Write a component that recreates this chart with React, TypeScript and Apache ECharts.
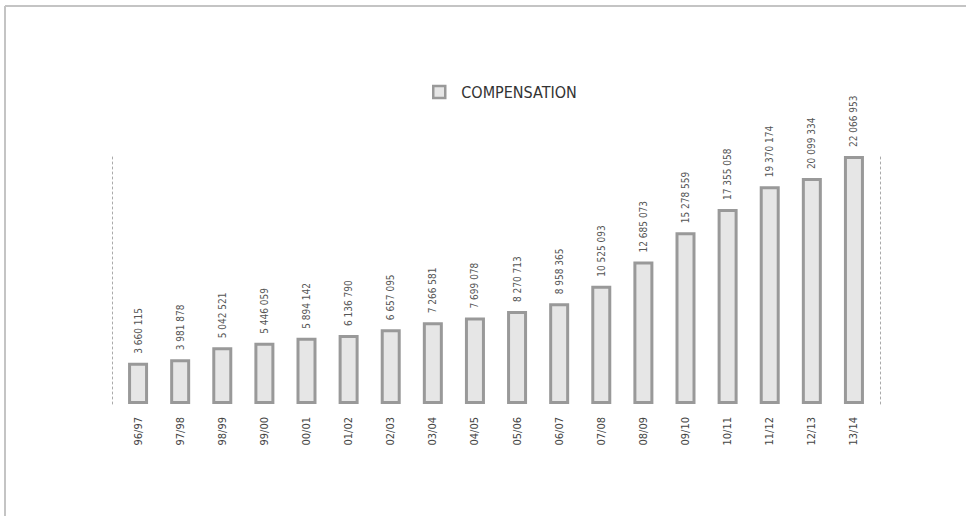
import React, { useEffect, useRef } from "react";
import * as echarts from "echarts";

const categories = [
  "96/97", "97/98", "98/99", "99/00", "00/01", "01/02", "02/03", "03/04", "04/05",
  "05/06", "06/07", "07/08", "08/09", "09/10", "10/11", "11/12", "12/13", "13/14",
];
const compensation = [
  3660115, 3981878, 5042521, 5446059, 5894142, 6136790, 6657095, 7266581, 7699078,
  8270713, 8958365, 10525093, 12685073, 15278559, 17355058, 19370174, 20099334, 22066953,
];
const seriesName = "COMPENSATION";

const fmt = (v: number) => String(v).replace(/\B(?=(\d{3})+(?!\d))/g, " ");

const NARROW = '"Liberation Sans Narrow", "Arial Narrow", "DejaVu Sans Condensed", "Liberation Sans", sans-serif';

export default function App() {
  const ref = useRef<HTMLDivElement>(null);
  useEffect(() => {
    if (!ref.current) return;
    const chart = echarts.init(ref.current, undefined, { renderer: "svg" });
    chart.setOption({
      animation: false,
      backgroundColor: "#ffffff",
      graphic: [
        { type: "line", shape: { x1: 5, y1: 6, x2: 966, y2: 6 }, style: { stroke: "#c4c4c4", lineWidth: 2 } },
        { type: "line", shape: { x1: 5, y1: 6, x2: 5, y2: 516 }, style: { stroke: "#c4c4c4", lineWidth: 2 } },
      ],
      legend: {
        left: 427,
        top: 79,
        itemWidth: 12,
        itemHeight: 12,
        icon: "rect",
        itemStyle: { color: "#e6e6e6", borderColor: "#999", borderWidth: 2.5 },
        textStyle: { color: "#333", fontSize: 16, fontFamily: NARROW, padding: [0, 0, 0, 11] },
        data: [seriesName],
      },
      grid: { left: 117, right: 91, top: 156, bottom: 112 },
      xAxis: {
        type: "category",
        data: categories,
        axisLine: { show: false },
        axisTick: { show: false },
        axisLabel: {
          rotate: 90,
          margin: 13,
          color: "#444",
          fontSize: 11,
          fontFamily: NARROW,
          interval: 0,
        },
      },
      yAxis: [
        {
          type: "value",
          min: 0,
          max: 22066953,
          offset: 5,
          axisLine: { show: true, lineStyle: { color: "#aaa", type: [2, 3], width: 1 } },
          axisTick: { show: false },
          axisLabel: { show: false },
          splitLine: { show: false },
        },
        {
          type: "value",
          position: "right",
          min: 0,
          max: 22066953,
          offset: 5,
          axisLine: { show: true, lineStyle: { color: "#aaa", type: [2, 3], width: 1 } },
          axisTick: { show: false },
          axisLabel: { show: false },
          splitLine: { show: false },
        },
      ],
      series: [
        {
          name: seriesName,
          type: "bar",
          data: compensation,
          barWidth: 20,
          itemStyle: { color: "#e6e6e6", borderColor: "#999", borderWidth: 3 },
          label: {
            show: true,
            position: "top",
            rotate: 90,
            align: "left",
            verticalAlign: "middle",
            distance: 9,
            color: "#555",
            fontSize: 10,
            fontFamily: NARROW,
            formatter: (p: any) => fmt(p.value),
          },
        },
      ],
    });
    return () => chart.dispose();
  }, []);
  return (
    <div
      ref={ref}
      style={{ position: "absolute", left: 0, top: 0, width: 966, height: 516 }}
    />
  );
}
